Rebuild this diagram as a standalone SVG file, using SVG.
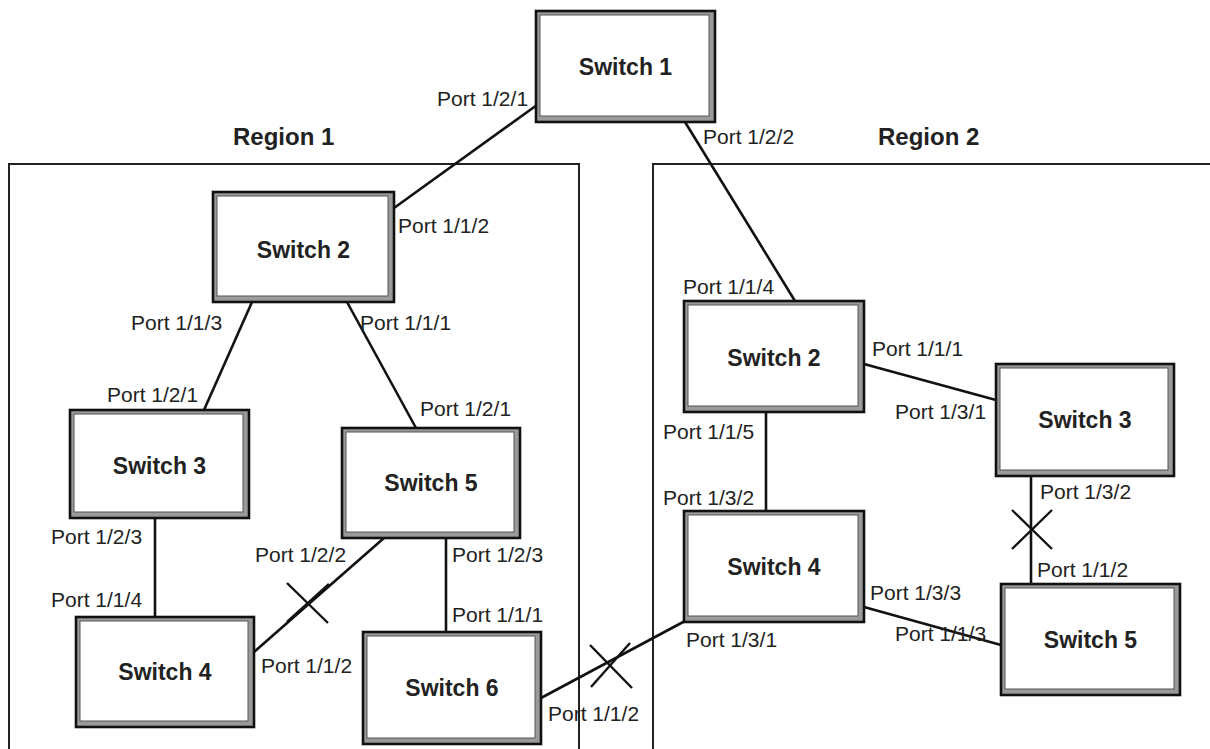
<svg xmlns="http://www.w3.org/2000/svg" width="1210" height="749" viewBox="0 0 1210 749">
<style>
.bg{fill:#fff}
.region{fill:none;stroke:#222;stroke-width:2}
.o{fill:#9a9a9a;stroke:#111;stroke-width:2.6}
.i{fill:#fff;stroke:#555;stroke-width:1}
.sw{font-family:"Liberation Sans",Arial,sans-serif;font-weight:bold;font-size:23px;fill:#222;text-anchor:middle}
.rg{font-family:"Liberation Sans",Arial,sans-serif;font-weight:bold;font-size:24px;fill:#222}
.pt{font-family:"Liberation Sans",Arial,sans-serif;font-size:21px;fill:#222}
.c{stroke:#111;stroke-width:2.6;fill:none}
.x{stroke:#111;stroke-width:2.4;fill:none}
</style>
<rect class="bg" x="0" y="0" width="1210" height="749"/>
<g id="regions">
<path class="region" d="M9,760 V164 H579 V760"/>
<path class="region" d="M653,760 V164 H1215"/>
<text class="rg" x="233" y="145">Region 1</text>
<text class="rg" x="878" y="145">Region 2</text>
</g>
<g id="connectors">
<line class="c" x1="537" y1="105" x2="394" y2="208"/>
<line class="c" x1="685" y1="122" x2="795" y2="301"/>
<line class="c" x1="252" y1="302" x2="204" y2="410"/>
<line class="c" x1="347" y1="302" x2="416" y2="428"/>
<line class="c" x1="155" y1="518" x2="155" y2="617"/>
<line class="c" x1="384" y1="538" x2="254" y2="652"/>
<line class="c" x1="446" y1="538" x2="446" y2="632"/>
<line class="c" x1="541" y1="698" x2="685" y2="621"/>
<line class="c" x1="766" y1="412" x2="766" y2="511"/>
<line class="c" x1="864" y1="364" x2="996" y2="400"/>
<line class="c" x1="1031" y1="476" x2="1031" y2="584"/>
<line class="c" x1="864" y1="607" x2="1001" y2="645"/>
<g id="breaks">
<line class="x" x1="287" y1="583" x2="328" y2="623"/>
<line class="x" x1="287" y1="622" x2="329" y2="584"/>
<line class="x" x1="590" y1="645" x2="632" y2="688"/>
<line class="x" x1="591" y1="687" x2="630" y2="643"/>
<line class="x" x1="1012" y1="510" x2="1052" y2="549"/>
<line class="x" x1="1012" y1="549" x2="1052" y2="510"/>
</g>
</g>
<g id="sw1"><rect class="o" x="536" y="11" width="179" height="111"/><rect class="i" x="540" y="15" width="169" height="101"/><text class="sw" x="625.5" y="75">Switch 1</text></g>
<g id="r1-sw2"><rect class="o" x="213" y="192" width="181" height="110"/><rect class="i" x="217" y="196" width="171" height="100"/><text class="sw" x="303.5" y="258">Switch 2</text></g>
<g id="r1-sw3"><rect class="o" x="70" y="410" width="179" height="108"/><rect class="i" x="74" y="414" width="169" height="98"/><text class="sw" x="159.5" y="474">Switch 3</text></g>
<g id="r1-sw5"><rect class="o" x="342" y="428" width="178" height="110"/><rect class="i" x="346" y="432" width="168" height="100"/><text class="sw" x="431" y="491">Switch 5</text></g>
<g id="r1-sw4"><rect class="o" x="76" y="617" width="178" height="110"/><rect class="i" x="80" y="621" width="168" height="100"/><text class="sw" x="165" y="680">Switch 4</text></g>
<g id="r1-sw6"><rect class="o" x="363" y="632" width="178" height="112"/><rect class="i" x="367" y="636" width="168" height="102"/><text class="sw" x="452" y="696">Switch 6</text></g>
<g id="r2-sw2"><rect class="o" x="684" y="301" width="180" height="111"/><rect class="i" x="688" y="305" width="170" height="101"/><text class="sw" x="774" y="366">Switch 2</text></g>
<g id="r2-sw3"><rect class="o" x="996" y="364" width="178" height="112"/><rect class="i" x="1000" y="368" width="168" height="102"/><text class="sw" x="1085" y="428">Switch 3</text></g>
<g id="r2-sw4"><rect class="o" x="684" y="511" width="180" height="111"/><rect class="i" x="688" y="515" width="170" height="101"/><text class="sw" x="774" y="575">Switch 4</text></g>
<g id="r2-sw5"><rect class="o" x="1001" y="584" width="179" height="111"/><rect class="i" x="1005" y="588" width="169" height="101"/><text class="sw" x="1090.5" y="648">Switch 5</text></g>
<g id="port-labels">
<text class="pt" x="437" y="106">Port 1/2/1</text>
<text class="pt" x="703" y="144">Port 1/2/2</text>
<text class="pt" x="398" y="233">Port 1/1/2</text>
<text class="pt" x="131" y="330">Port 1/1/3</text>
<text class="pt" x="360" y="330">Port 1/1/1</text>
<text class="pt" x="107" y="402">Port 1/2/1</text>
<text class="pt" x="420" y="416">Port 1/2/1</text>
<text class="pt" x="51" y="544">Port 1/2/3</text>
<text class="pt" x="255" y="562">Port 1/2/2</text>
<text class="pt" x="452" y="562">Port 1/2/3</text>
<text class="pt" x="51" y="607">Port 1/1/4</text>
<text class="pt" x="452" y="622">Port 1/1/1</text>
<text class="pt" x="261" y="673">Port 1/1/2</text>
<text class="pt" x="548" y="721">Port 1/1/2</text>
<text class="pt" x="683" y="294">Port 1/1/4</text>
<text class="pt" x="663" y="439">Port 1/1/5</text>
<text class="pt" x="872" y="356">Port 1/1/1</text>
<text class="pt" x="895" y="419">Port 1/3/1</text>
<text class="pt" x="663" y="505">Port 1/3/2</text>
<text class="pt" x="1040" y="499">Port 1/3/2</text>
<text class="pt" x="1037" y="577">Port 1/1/2</text>
<text class="pt" x="870" y="600">Port 1/3/3</text>
<text class="pt" x="686" y="647">Port 1/3/1</text>
<text class="pt" x="895" y="641">Port 1/1/3</text>
</g>
</svg>
